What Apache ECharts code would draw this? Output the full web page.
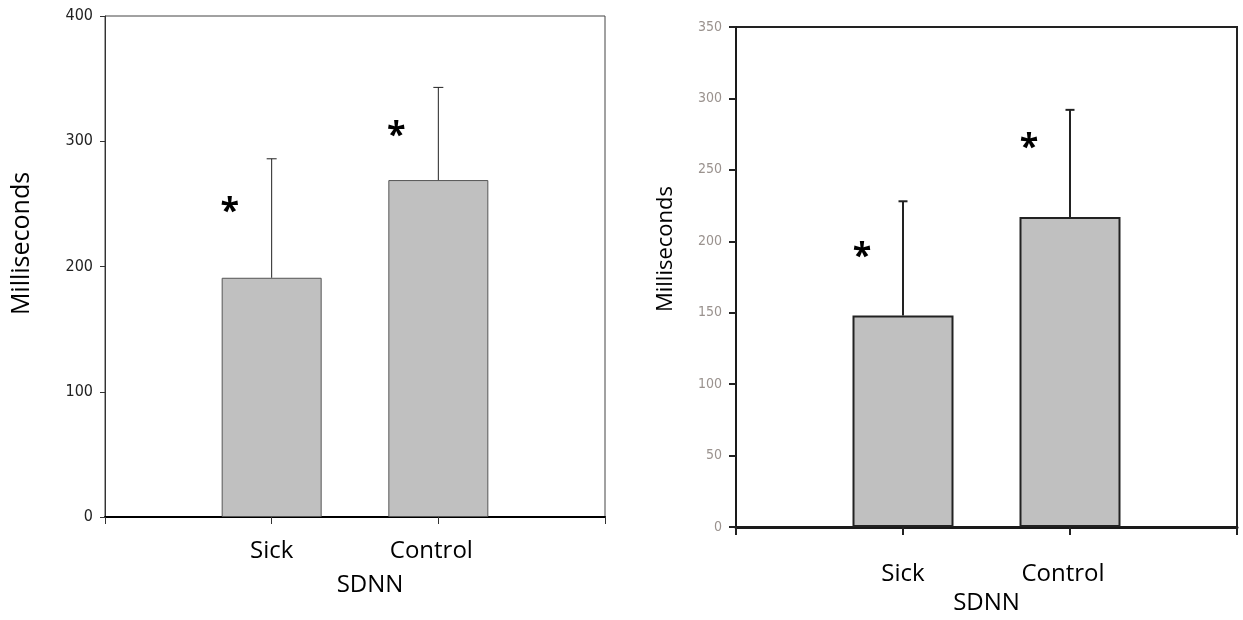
<!DOCTYPE html>
<html>
<head>
<meta charset="utf-8">
<title>SDNN – Sick vs Control</title>
<script src="https://cdn.jsdelivr.net/npm/echarts@6/dist/echarts.min.js"></script>
<style>
  html, body { margin: 0; padding: 0; background: #fff; }
  #chart { width: 1243px; height: 620px; }
</style>
</head>
<body>
<div id="chart"></div>
<script>
// Groups compared in both panels
const groups = ['Sick', 'Control'];
// Category slots: empty padding slot on each side of the two groups
const slots = ['', 'Sick', 'Control', ''];

// Left panel: mean SDNN (ms), standard deviation, significance-mark height
const leftMeans = [191, 269];
const leftSD = [95, 74];
const leftStarLevel = [249, 310];
const leftTicks = { min: 0, max: 400, interval: 100 };

// Right panel: mean SDNN (ms), standard deviation, significance-mark height
const rightMeans = [148, 217];
const rightSD = [80, 75];
const rightStarLevel = [194, 270];
const rightTicks = { min: 0, max: 350, interval: 50 };

const xTitle = 'SDNN';
const yTitle = 'Milliseconds';

const titleFont = "'Open Sans', 'Noto Sans', sans-serif";
const tickFont = "'Liberation Sans Narrow', 'DejaVu Sans Condensed', sans-serif";

function barData(means) {
  return slots.map(s => {
    const i = groups.indexOf(s);
    return i < 0 ? '-' : means[i];
  });
}

function errData(means, sd) {
  return groups.map((g, i) => [slots.indexOf(g), means[i], sd[i]]);
}

function starData(levels) {
  return groups.map((g, i) => [slots.indexOf(g), levels[i]]);
}

// Vertical error bar from the bar top up to mean + SD, with a short cap
function errRender(lineW, capHalf, color) {
  return function (params, api) {
    const x = api.value(0);
    const mean = api.value(1);
    const sd = api.value(2);
    const base = api.coord([x, mean]);
    const top = api.coord([x, mean + sd]);
    const style = { stroke: color, lineWidth: lineW };
    return {
      type: 'group',
      children: [
        { type: 'line', shape: { x1: base[0], y1: base[1], x2: top[0], y2: top[1] }, style },
        { type: 'line', shape: { x1: top[0] - capHalf, y1: top[1], x2: top[0] + capHalf, y2: top[1] }, style }
      ]
    };
  };
}

// Significance asterisk beside each bar; the glyph sits high in its em box,
// so the text is nudged down to centre the star on its level
function starRender(dx, size) {
  return function (params, api) {
    const p = api.coord([api.value(0), api.value(1)]);
    return {
      type: 'text',
      x: p[0] + dx,
      y: p[1] + size * 0.21,
      style: {
        text: '*',
        fill: '#000',
        font: 'bold ' + size + 'px ' + titleFont,
        align: 'center',
        verticalAlign: 'middle'
      }
    };
  };
}

function catLabelFormatter(v) {
  return v === 'Control' ? '{c|' + v + '}' : v;
}

const chart = echarts.init(document.getElementById('chart'), null, { renderer: 'canvas' });

chart.setOption({
  animation: false,
  backgroundColor: '#fff',
  grid: [
    { left: 105, top: 16, width: 500, height: 501, show: true, borderColor: '#444', borderWidth: 1, backgroundColor: 'transparent' },
    { left: 736, top: 27, width: 501, height: 501, show: true, borderColor: '#222', borderWidth: 2, backgroundColor: 'transparent' }
  ],
  xAxis: [
    {
      gridIndex: 0, type: 'category', data: slots, boundaryGap: false,
      axisLine: { lineStyle: { color: '#000', width: 2 } },
      axisTick: { show: true, interval: 0, length: 7, lineStyle: { color: '#333', width: 1 } },
      axisLabel: {
        interval: 0, margin: 22, color: '#000', fontSize: 24, fontFamily: titleFont,
        formatter: catLabelFormatter,
        rich: { c: { fontSize: 24, fontFamily: titleFont, color: '#000', padding: [0, 14, 0, 0] } }
      },
      name: xTitle, nameLocation: 'middle', nameGap: 56,
      nameTextStyle: { color: '#000', fontSize: 24, fontFamily: titleFont, padding: [0, 0, 0, 30] },
      splitLine: { show: false }
    },
    {
      gridIndex: 1, type: 'category', data: slots, boundaryGap: false,
      axisLine: { lineStyle: { color: '#1a1a1a', width: 3 } },
      axisTick: { show: true, interval: 0, length: 8, lineStyle: { color: '#222', width: 2 } },
      axisLabel: {
        interval: 0, margin: 35, color: '#000', fontSize: 24, fontFamily: titleFont,
        formatter: catLabelFormatter,
        rich: { c: { fontSize: 24, fontFamily: titleFont, color: '#000', padding: [0, 14, 0, 0] } }
      },
      name: xTitle, nameLocation: 'middle', nameGap: 64,
      nameTextStyle: { color: '#000', fontSize: 24, fontFamily: titleFont },
      splitLine: { show: false }
    }
  ],
  yAxis: [
    {
      gridIndex: 0, type: 'value', min: leftTicks.min, max: leftTicks.max, interval: leftTicks.interval,
      axisLine: { show: true, lineStyle: { color: '#333', width: 1 } },
      axisTick: { show: true, length: 5, lineStyle: { color: '#333', width: 1 } },
      axisLabel: { margin: 12, color: '#222', fontSize: 16, fontFamily: tickFont },
      splitLine: { show: false },
      name: yTitle, nameLocation: 'middle', nameRotate: 90, nameGap: 71,
      nameTextStyle: { color: '#000', fontSize: 25, fontFamily: titleFont, padding: [0, 0, 0, 46] }
    },
    {
      gridIndex: 1, type: 'value', min: rightTicks.min, max: rightTicks.max, interval: rightTicks.interval,
      axisLine: { show: true, lineStyle: { color: '#1a1a1a', width: 2 } },
      axisTick: { show: true, length: 7, lineStyle: { color: '#222', width: 2 } },
      axisLabel: { margin: 14, color: '#9a928e', fontSize: 14, fontFamily: tickFont },
      splitLine: { show: false },
      name: yTitle, nameLocation: 'middle', nameRotate: 90, nameGap: 59,
      nameTextStyle: { color: '#000', fontSize: 22, fontFamily: titleFont, padding: [0, 0, 0, 56] }
    }
  ],
  series: [
    {
      type: 'bar', xAxisIndex: 0, yAxisIndex: 0, data: barData(leftMeans), barWidth: 100,
      itemStyle: { color: '#c0c0c0', borderColor: '#555', borderWidth: 1 }
    },
    {
      type: 'custom', xAxisIndex: 0, yAxisIndex: 0, data: errData(leftMeans, leftSD),
      renderItem: errRender(1, 5, '#222'), z: 3
    },
    {
      type: 'custom', xAxisIndex: 0, yAxisIndex: 0, data: starData(leftStarLevel),
      renderItem: starRender(-42, 34), z: 3
    },
    {
      type: 'bar', xAxisIndex: 1, yAxisIndex: 1, data: barData(rightMeans), barWidth: 101,
      itemStyle: { color: '#c0c0c0', borderColor: '#222', borderWidth: 2 }
    },
    {
      type: 'custom', xAxisIndex: 1, yAxisIndex: 1, data: errData(rightMeans, rightSD),
      renderItem: errRender(2, 4.5, '#222'), z: 3
    },
    {
      type: 'custom', xAxisIndex: 1, yAxisIndex: 1, data: starData(rightStarLevel),
      renderItem: starRender(-41, 34), z: 3
    }
  ]
});
</script>
</body>
</html>
